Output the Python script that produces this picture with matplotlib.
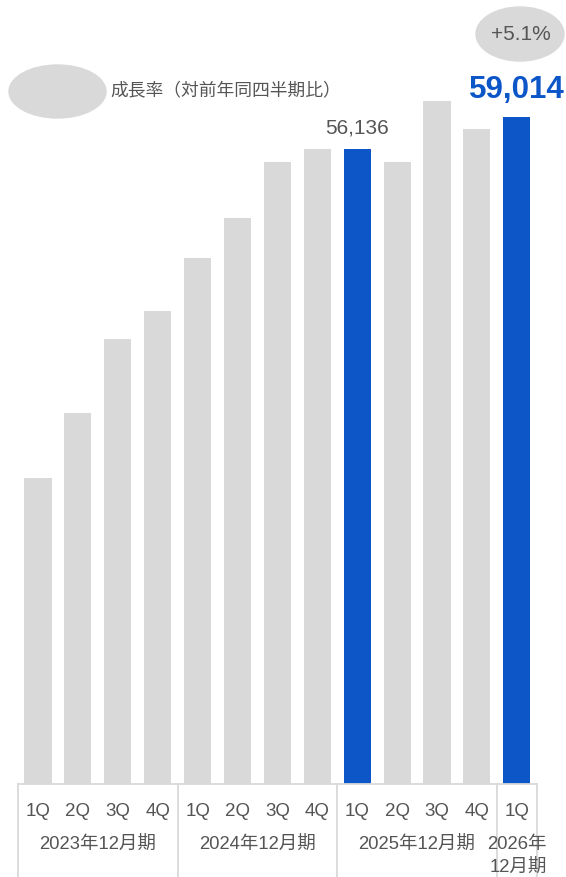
import matplotlib
matplotlib.use("Agg")
import matplotlib.pyplot as plt
import matplotlib.transforms as mtransforms
from matplotlib.patches import Ellipse

plt.rcParams['font.family'] = ['Liberation Sans', 'Noto Sans CJK JP']

# Data
quarters = ['1Q', '2Q', '3Q', '4Q', '1Q', '2Q', '3Q', '4Q', '1Q', '2Q', '3Q', '4Q', '1Q']
values = [27040, 32810, 39350, 41860, 46510, 50060, 54970, 56140,
          56136, 55030, 60360, 57950, 59014]
highlight = [8, 12]
fiscal_years = ['2023年12月期', '2024年12月期', '2025年12月期', '2026年\n12月期']
year_spans = [(-0.5, 3.5), (3.5, 7.5), (7.5, 11.5), (11.5, 12.5)]
growth_label = '+5.1%'
legend_label = '成長率（対前年同四半期比）'

GRAY = '#d9d9d9'
BLUE = '#0d56c8'
TEXT = '#555555'

W, H = 566, 877
fig = plt.figure(figsize=(W / 100, H / 100), dpi=100)
base_px = 784  # baseline, pixels from top
ax = fig.add_axes([0, (H - base_px) / H, 1, base_px / H])

colors = [BLUE if i in highlight else GRAY for i in range(len(values))]
x = list(range(len(values)))
ax.bar(x, values, width=0.68, color=colors, zorder=2)

# pixel mapping: bar centers at 38 + 39.9*i
ax.set_xlim(-38 / 39.9, (W - 38) / 39.9)
ax.set_ylim(0, base_px * 88.42)
ax.axis('off')

# value labels
ax.annotate(f'{values[8]:,}', (8, values[8]), xytext=(0, 11.5), textcoords='offset points',
            ha='center', va='baseline', fontsize=15, color=TEXT)
ax.annotate(f'{values[12]:,}', (12, values[12]), xytext=(0, 13.5), textcoords='offset points',
            ha='center', va='baseline', fontsize=22.5, color=BLUE, fontweight='bold')

# table under the bars (x in data, y in figure fraction)
tr = mtransforms.blended_transform_factory(ax.transData, fig.transFigure)

def fy(px):
    return 1 - px / H

line_kw = dict(color=GRAY, lw=1.3, transform=tr, clip_on=False)
ax.plot([-0.5, 12.5], [fy(base_px), fy(base_px)], **line_kw)
for x0 in [-0.5, 3.5, 7.5, 11.5, 12.5]:
    ax.plot([x0, x0], [fy(base_px), 0], **line_kw)

for i, q in enumerate(quarters):
    ax.text(i, fy(811), q, transform=tr, ha='center', va='center', fontsize=13.5, color=TEXT)

for (a, b), lab in zip(year_spans, fiscal_years):
    if '\n' in lab:
        top, bot = lab.split('\n')
        ax.text((a + b) / 2, fy(844), top, transform=tr, ha='center', va='center',
                fontsize=13.3, color=TEXT)
        ax.text((a + b) / 2 + 0.05, fy(867), bot, transform=tr, ha='center', va='center',
                fontsize=13.3, color=TEXT)
    else:
        ax.text((a + b) / 2, fy(844), lab, transform=tr, ha='center', va='center',
                fontsize=13.3, color=TEXT)

# legend ellipse
fig.patches.append(Ellipse((57.5 / W, fy(91.5)), 97 / W, 53 / H, color=GRAY,
                           transform=fig.transFigure, zorder=1))
fig.text(110 / W, fy(91), legend_label, ha='left', va='center', fontsize=12.8, color=TEXT)

# growth ellipse
fig.patches.append(Ellipse((520 / W, fy(34)), 88 / W, 54 / H, color=GRAY,
                           transform=fig.transFigure, zorder=1))
fig.text(521 / W, fy(35), growth_label, ha='center', va='center', fontsize=15, color=TEXT)

fig.savefig('out.png', dpi=100, facecolor='white')
